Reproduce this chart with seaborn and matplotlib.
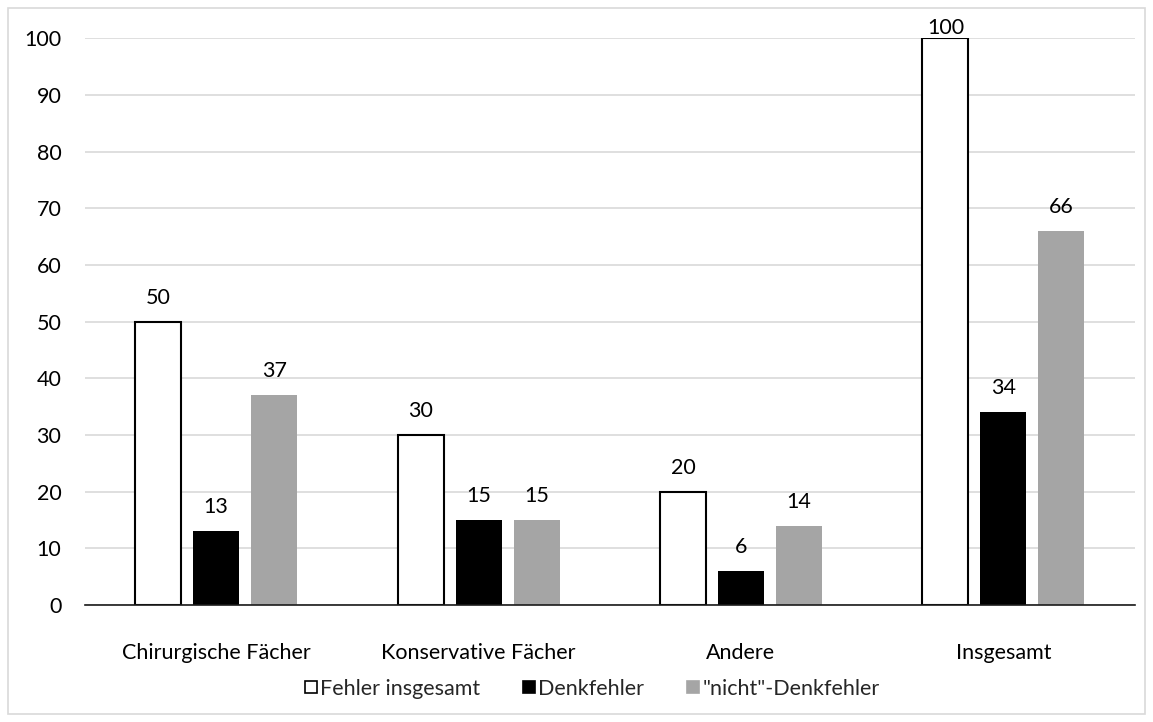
import pandas as pd
import matplotlib.pyplot as plt
import seaborn as sns
from matplotlib.patches import Rectangle
from matplotlib.lines import Line2D

categories = ['Chirurgische Fächer', 'Konservative Fächer', 'Andere', 'Insgesamt']
series = ['Fehler insgesamt', 'Denkfehler', '"nicht"-Denkfehler']
fehler_insgesamt = [50, 30, 20, 100]
denkfehler = [13, 15, 6, 34]
nicht_denkfehler = [37, 15, 14, 66]

rows = []
for vals, name in zip([fehler_insgesamt, denkfehler, nicht_denkfehler], series):
    for cat, v in zip(categories, vals):
        rows.append({'Kategorie': cat, 'Serie': name, 'Wert': v})
df = pd.DataFrame(rows)

sns.set_style('white')
plt.rcParams['font.family'] = ['Lato', 'DejaVu Sans']

fig = plt.figure(figsize=(11.53, 7.22), dpi=100)
ax = fig.add_axes([0.0737, 0.162, 0.9103, 0.785])

palette = {series[0]: 'white', series[1]: 'black', series[2]: '#a5a5a5'}
sns.barplot(data=df, x='Kategorie', y='Wert', hue='Serie', order=categories,
            hue_order=series, palette=palette, width=0.663, gap=0.207,
            ax=ax, legend=False, saturation=1)

# Rahmen nur für die weißen Balken
for container, name in zip(ax.containers, series):
    for bar in container:
        if name == series[0]:
            bar.set_edgecolor('black')
            bar.set_linewidth(1.5)
        else:
            bar.set_edgecolor('none')
    for bar in container:
        h = bar.get_height()
        off = 0 if h >= 100 else 10
        ax.annotate(f'{h:g}', (bar.get_x() + bar.get_width() / 2, h),
                    xytext=(0, off), textcoords='offset points',
                    ha='center', va='bottom', fontsize=15.5, color='black',
                    annotation_clip=False)

ax.set_ylim(0, 100)
ax.set_xlim(-0.5, 3.5)
ax.set_yticks(range(0, 101, 10))
ax.yaxis.grid(True, color='#d9d9d9', linewidth=1.2)
ax.set_axisbelow(True)
for s in ['top', 'right', 'left']:
    ax.spines[s].set_visible(False)
ax.spines['bottom'].set_color('#1a1a1a')
ax.spines['bottom'].set_linewidth(1.2)
ax.tick_params(axis='both', length=0, labelsize=15.5, colors='black')
ax.tick_params(axis='y', pad=17)
ax.tick_params(axis='x', pad=27)
ax.set_xlabel('')
ax.set_ylabel('')

handles = [Line2D([], [], marker='s', linestyle='none', markersize=9,
                  markerfacecolor=palette[s], markeredgecolor='black' if s == series[0] else palette[s],
                  markeredgewidth=1.2) for s in series]
fig.legend(handles, series, loc='center', bbox_to_anchor=(0.512, 0.046), ncol=3,
           frameon=False, fontsize=15.5, handletextpad=0.0, columnspacing=1.8,
           handlelength=0.9)

fig.patches.append(Rectangle((8 / 1153, 8 / 722), 1137 / 1153, 706 / 722,
                             transform=fig.transFigure, fill=False,
                             edgecolor='#d9d9d9', linewidth=1.2))

plt.savefig('out.png', dpi=100)
plt.close()
